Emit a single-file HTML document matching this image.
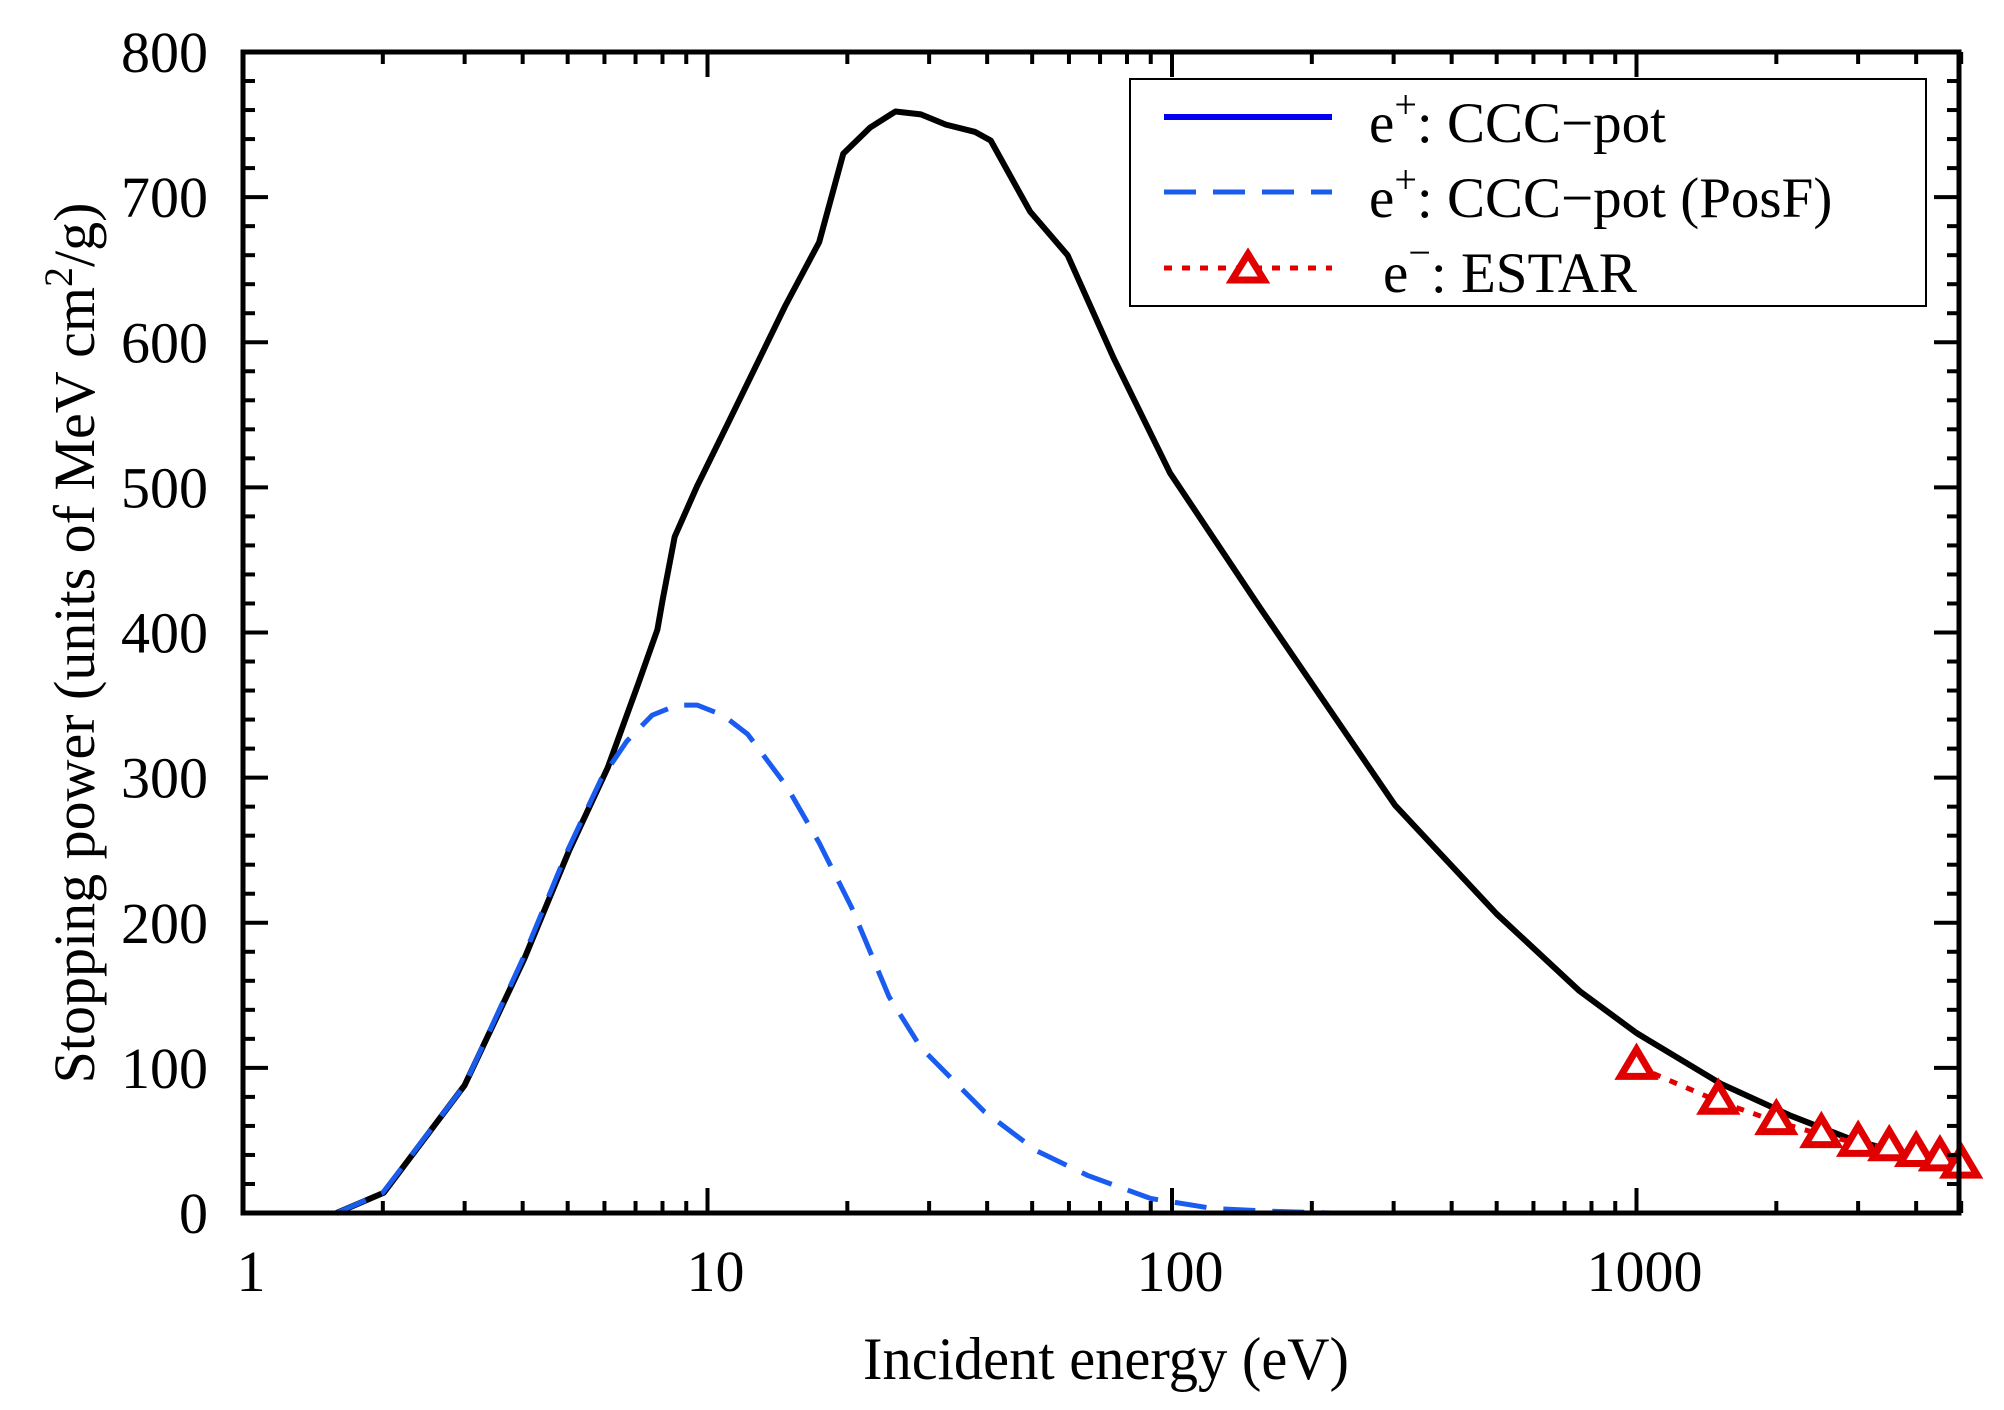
<!DOCTYPE html>
<html><head><meta charset="utf-8"><style>
html,body{margin:0;padding:0;background:#fff;}
svg{display:block;}
text{font-family:"Liberation Serif",serif;fill:#000;}
</style></head><body>
<svg id="s" width="2004" height="1410" viewBox="0 0 2004 1410" xmlns="http://www.w3.org/2000/svg">
<rect width="2004" height="1410" fill="#fff"/>
<g id="plot"></g>
<g id="axes"></g>
<rect x="1130" y="79" width="796" height="227" fill="#fff" stroke="#000" stroke-width="2"/>
<line x1="1164" y1="117" x2="1332" y2="117" stroke="#0000ee" stroke-width="6"/>
<line x1="1164" y1="192" x2="1332" y2="192" stroke="#1a5cf0" stroke-width="5" stroke-dasharray="32,17"/>
<line x1="1164" y1="268" x2="1332" y2="268" stroke="#e00000" stroke-width="5" stroke-dasharray="8,10"/>
<polygon points="1248,254 1264,280 1232,280" fill="#fff" stroke="#e00000" stroke-width="7"/>
<text x="1369" y="142" font-size="57">e<tspan dy="-24" font-size="40">+</tspan><tspan dy="24">: CCC−pot</tspan></text>
<text x="1369" y="217" font-size="57">e<tspan dy="-24" font-size="40">+</tspan><tspan dy="24">: CCC−pot (PosF)</tspan></text>
<text x="1383" y="292" font-size="57">e<tspan dy="-26" font-size="40">−</tspan><tspan dy="26">: ESTAR</tspan></text>
<text x="1106" y="1379" font-size="60" text-anchor="middle" textLength="486" lengthAdjust="spacingAndGlyphs">Incident energy (eV)</text>
<text transform="translate(94,643) rotate(-90)" font-size="58" text-anchor="middle">Stopping power (units of MeV cm<tspan dy="-22" font-size="40">2</tspan><tspan dy="22">/g)</tspan></text>
<g id="labels"></g>
</svg>
<script>
(function(){
var L=243,R=1959,T=52,B=1213,D=464.5;
function X(e){return L+Math.log10(e)*D;}
function Y(s){return B-(s/800)*(B-T);}
var NS="http://www.w3.org/2000/svg";
function el(p,n,a,t){var e=document.createElementNS(NS,n);for(var k in a)e.setAttribute(k,a[k]);if(t!=null)e.textContent=t;document.getElementById(p).appendChild(e);return e;}
function path(pts){return pts.map(function(p,i){return (i?"L":"M")+X(p[0]).toFixed(1)+","+Y(p[1]).toFixed(1);}).join(" ");}
var blk=[[1.59,0],[2.01,14],[3,88],[4.03,175],[5.04,250],[6.1,307],[7.1,365],[7.8,402],[8.0,422],[8.5,466],[9.5,501],[11.1,545],[14.7,625],[17.4,669],[19.6,730],[22.4,748],[25.4,759],[28.8,757],[32.6,750],[37.6,745],[40.7,739],[49.5,690],[59.6,660],[74.9,589],[99,510],[154,418],[302,281],[500,206],[754,153],[1000,124],[1520,89],[2150,67],[2940,50],[4000,39],[5000,33]];
var blu=[[1.59,0],[2,14],[3,88],[4,175],[5,250],[5.9,299],[6.7,325],[7.6,343],[8.6,350],[9.5,350],[10.8,343],[12.2,330],[14.8,294],[17.4,255],[20.4,211],[24.6,149],[28.8,114],[39.4,70],[51,43],[65.7,26],[90,10],[123,3],[170,1],[220,0]];
el("plot","path",{d:path(blk),fill:"none",stroke:"#000","stroke-width":6,"stroke-linejoin":"round"});
el("plot","path",{d:path(blu),fill:"none",stroke:"#1a5cf0","stroke-width":5,"stroke-dasharray":"32,17"});
var red=[[1000,101],[1500,77],[2000,63],[2500,54],[3000,48],[3500,45],[4000,41],[4500,38],[5000,33]];
el("plot","path",{d:path(red),fill:"none",stroke:"#e00000","stroke-width":5,"stroke-dasharray":"8,10"});
red.forEach(function(p){var x=X(p[0]),y=Y(p[1]);el("plot","polygon",{points:x+","+(y-17)+" "+(x+16)+","+(y+10)+" "+(x-16)+","+(y+10),fill:"#fff",stroke:"#e00000","stroke-width":7,"stroke-linejoin":"miter"});});
el("axes","rect",{x:L,y:T,width:R-L,height:B-T,fill:"none",stroke:"#000","stroke-width":5});
for(var v=0;v<=800;v+=20){var y=Y(v),len=(v%100==0)?25:12;
 el("axes","line",{x1:L,y1:y,x2:L+len,y2:y,stroke:"#000","stroke-width":4});
 el("axes","line",{x1:R,y1:y,x2:R-len,y2:y,stroke:"#000","stroke-width":4});
 if(v%100==0) el("labels","text",{x:208,y:y+20,"font-size":58,"text-anchor":"end"},String(v));}
for(var d=1;d<=1000;d*=10){for(var m=1;m<=9;m++){var e=d*m;if(e>5000)break;var x=X(e),len=(m==1)?25:12;
 el("axes","line",{x1:x,y1:B,x2:x,y2:B-len,stroke:"#000","stroke-width":4});
 el("axes","line",{x1:x,y1:T,x2:x,y2:T+len,stroke:"#000","stroke-width":4});}
 el("labels","text",{x:X(d)+8,y:1291,"font-size":58,"text-anchor":"middle"},String(d));}
})();
</script>
</body></html>
